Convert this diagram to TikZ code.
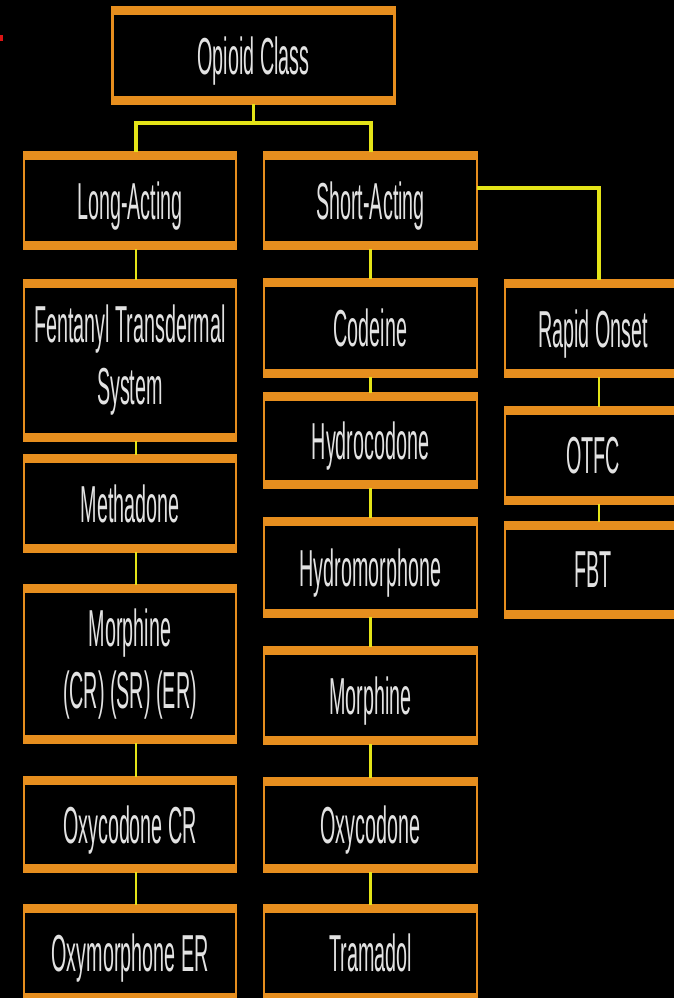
\documentclass[tikz,border=0pt]{standalone}
\usepackage{fontspec}
\newfontfamily\boxfont[FakeStretch=0.38]{Liberation Sans}
\definecolor{boxor}{RGB}{230,142,30}
\definecolor{linky}{RGB}{228,228,24}
\definecolor{txt}{RGB}{226,226,226}
\definecolor{redmark}{RGB}{220,20,20}
\begin{document}
\begin{tikzpicture}[x=1pt,y=-1pt,
  box/.style={fill=black, draw=boxor, line width=2.5pt, inner sep=0pt, outer sep=0pt,
    text=txt, font=\boxfont\fontsize{52}{62}\selectfont, align=center,
    path picture={
      \fill[boxor] (path picture bounding box.north west) rectangle ([yshift=-8pt]path picture bounding box.north east);
      \fill[boxor] (path picture bounding box.south west) rectangle ([yshift=8pt]path picture bounding box.south east);
    }},
  single/.style={box, text depth=0pt},
  lbox/.style={single, minimum width=212pt},
  mbox/.style={single, minimum width=213pt},
  rbox/.style={single, minimum width=176pt},
  link/.style={draw=linky, line width=2.5pt},
  bus/.style={draw=linky, line width=4pt}]
\fill[black] (0,0) rectangle (674,998);
\useasboundingbox (0,0) rectangle (674,998);
\clip (0,0) rectangle (674,998);
\fill[redmark] (0,35) rectangle (2.5,41);

% top
\node[single, minimum width=282pt, minimum height=96pt] (opioid) at (253.5,55.5) {Opioid Class};
% left column
\node[lbox, minimum height=97pt]  (long)  at (130,200.5) {Long-Acting};
\node[box, minimum width=212pt, minimum height=161pt] (fent)  at (130,360.5) {Fentanyl Transdermal\\System};
\node[lbox, minimum height=97pt]  (meth)  at (130,503.5) {Methadone};
\node[box, minimum width=212pt, minimum height=158pt] (morcr) at (130,664)   {Morphine\\(CR) (SR) (ER)};
\node[lbox, minimum height=95pt]  (oxycr) at (130,824.5) {Oxycodone CR};
\node[lbox, minimum height=96pt]  (oxym)  at (130,953)   {Oxymorphone ER};
% middle column
\node[mbox, minimum height=97pt]  (short)  at (370.5,200.5) {Short-Acting};
\node[mbox, minimum height=98pt]  (cod)    at (370.5,328)   {Codeine};
\node[mbox, minimum height=95pt]  (hydroc) at (370.5,440.5) {Hydrocodone};
\node[mbox, minimum height=99pt]  (hydrom) at (370.5,567.5) {Hydromorphone};
\node[mbox, minimum height=97pt]  (morph)  at (370.5,695.5) {Morphine};
\node[mbox, minimum height=94pt]  (oxy)    at (370.5,825)   {Oxycodone};
\node[mbox, minimum height=96pt]  (tram)   at (370.5,953)   {Tramadol};
% right column
\node[rbox, minimum height=97pt]  (rapid) at (593,328.5) {Rapid Onset};
\node[rbox, minimum height=97pt]  (otfc)  at (593,455.5) {OTFC};
\node[rbox, minimum height=96pt]  (fbt)   at (593,570)   {FBT};

% connectors
\coordinate (busmid) at (253.5,123);
\draw[link] (opioid.south) -- (busmid);
\draw[bus] (busmid) -| ([xshift=6pt]long.north);
\draw[bus] (busmid) -| (short.north);
\draw[link] ([xshift=6pt]long.north |- busmid) -- ([xshift=6pt]long.north);
\draw[link] (short.north |- busmid) -- (short.north);
\draw[bus] ([yshift=12.5pt]short.east) -| ([xshift=6pt]rapid.north);

\draw[link] ([xshift=6pt]long.south)  -- ([xshift=6pt]fent.north);
\draw[link] ([xshift=6pt]fent.south)  -- ([xshift=6pt]meth.north);
\draw[link] ([xshift=6pt]meth.south)  -- ([xshift=6pt]morcr.north);
\draw[link] ([xshift=6pt]morcr.south) -- ([xshift=6pt]oxycr.north);
\draw[link] ([xshift=6pt]oxycr.south) -- ([xshift=6pt]oxym.north);

\draw[link] (short.south)  -- (cod.north);
\draw[link] (cod.south)    -- (hydroc.north);
\draw[link] (hydroc.south) -- (hydrom.north);
\draw[link] (hydrom.south) -- (morph.north);
\draw[link] (morph.south)  -- (oxy.north);
\draw[link] (oxy.south)    -- (tram.north);

\draw[link] ([xshift=6pt]rapid.south) -- ([xshift=6pt]otfc.north);
\draw[link] ([xshift=6pt]otfc.south)  -- ([xshift=6pt]fbt.north);
\end{tikzpicture}
\end{document}
